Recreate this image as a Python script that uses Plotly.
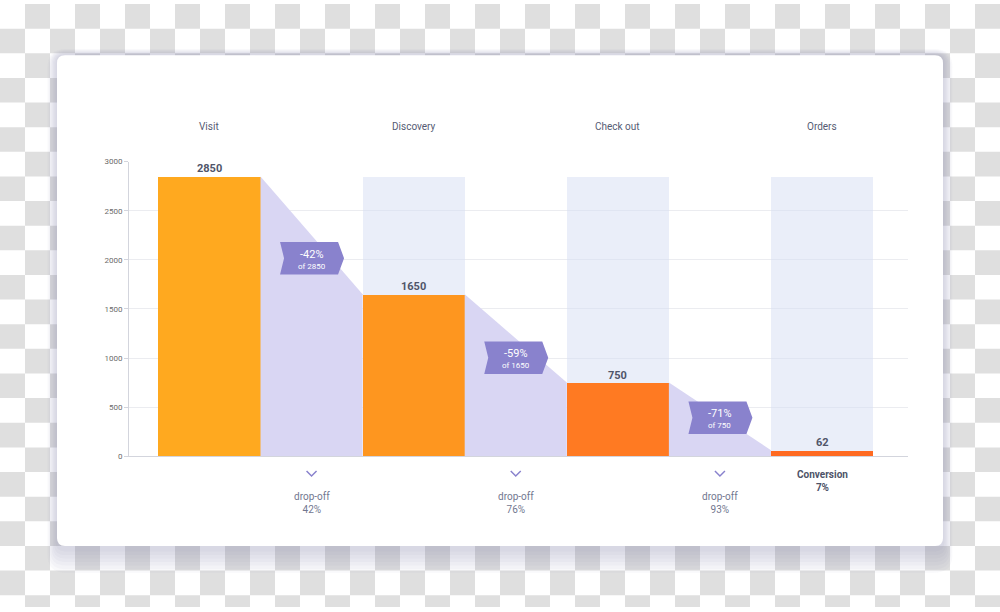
import plotly.graph_objects as go

W, H = 1000, 612

# ---- data ----
stages = ["Visit", "Discovery", "Check out", "Orders"]
values = [2850, 1650, 750, 62]
bar_colors = ["#FFA91F", "#FE961F", "#FF7A22", "#FF6A21"]
drop_pct = ["-42%", "-59%", "-71%"]
drop_base = ["of 2850", "of 1650", "of 750"]
dropoff_total = ["42%", "76%", "93%"]
conversion = "7%"
y_ticks = [0, 500, 1000, 1500, 2000, 2500, 3000]

# ---- layout geometry (pixels) ----
X_RANGE = [-0.394, 3.421]
PL, PR, PT, PB = 129, 908, 160, 459
BADGE_CY = [258, 359, 420]


def px_x(x):
    return PL + (x - X_RANGE[0]) / (X_RANGE[1] - X_RANGE[0]) * (PR - PL)


def fx(px):
    return px / W


def fy(py):
    return 1 - py / H


def rr_path(x0, y0, x1, y1, r):
    return (f"M{fx(x0 + r)},{fy(y0)} L{fx(x1 - r)},{fy(y0)} Q{fx(x1)},{fy(y0)} {fx(x1)},{fy(y0 + r)} "
            f"L{fx(x1)},{fy(y1 - r)} Q{fx(x1)},{fy(y1)} {fx(x1 - r)},{fy(y1)} "
            f"L{fx(x0 + r)},{fy(y1)} Q{fx(x0)},{fy(y1)} {fx(x0)},{fy(y1 - r)} "
            f"L{fx(x0)},{fy(y0 + r)} Q{fx(x0)},{fy(y0)} {fx(x0 + r)},{fy(y0)} Z")


shapes = []
# checkerboard background
parts = []
for r in range(0, H // 25 + 1):
    for c in range(0, W // 25):
        if (r + c) % 2 == 1:
            x0, y0 = c * 25, r * 25
            x1, y1 = x0 + 25, min(y0 + 25, H)
            parts.append(f"M{fx(x0):.5f},{fy(y0):.5f}H{fx(x1):.5f}V{fy(y1):.5f}H{fx(x0):.5f}Z")
shapes.append(dict(type="path", xref="paper", yref="paper", path="".join(parts),
                   fillcolor="#dfdfdf", line=dict(width=0), layer="below"))

# card shadow
CX0, CY0, CX1, CY1 = 57, 52, 943, 550
for k in range(7, 0, -1):
    e = k * 3.0
    shapes.append(dict(type="path", xref="paper", yref="paper",
                       path=rr_path(CX0 - e * 0.45, CY0 - e * 0.3, CX1 + e * 0.45, CY1 + e * 1.2 + 2, 8 + e * 0.5),
                       fillcolor="rgba(115,122,165,0.045)", line=dict(width=0), layer="below"))
# card
shapes.append(dict(type="path", xref="paper", yref="paper", path=rr_path(CX0, CY0, CX1, CY1, 8),
                   fillcolor="#ffffff", line=dict(width=0), layer="below"))

# badges and chevrons
BADGE_COLOR = "#8982CD"
for i in range(3):
    cx = px_x(i + 0.5)
    cy = BADGE_CY[i]
    pts = [(-31.5, -16.5), (26.5, -16.5), (32.5, 0), (26.5, 16.5), (-31.5, 16.5), (-27.5, 0)]
    path = "M" + " L".join(f"{fx(cx + dx)},{fy(cy + dy)}" for dx, dy in pts) + " Z"
    shapes.append(dict(type="path", xref="paper", yref="paper", path=path,
                       fillcolor=BADGE_COLOR, line=dict(width=0), layer="above"))
    chev = f"M{fx(cx - 5)},{fy(474)} L{fx(cx)},{fy(479)} L{fx(cx + 5)},{fy(474)}"
    shapes.append(dict(type="path", xref="paper", yref="paper", path=chev,
                       line=dict(color=BADGE_COLOR, width=1.5), layer="above"))

fig = go.Figure()

# background columns
fig.add_trace(go.Bar(x=list(range(1, len(stages))), y=[values[0]] * (len(stages) - 1), width=0.5,
                     marker=dict(color="rgba(214,221,243,0.5)", line=dict(width=0)),
                     hoverinfo="skip"))
# funnel bars
fig.add_trace(go.Bar(x=list(range(len(stages))), y=values, width=0.5,
                     marker=dict(color=bar_colors, line=dict(width=0)), hoverinfo="skip"))
# drop-off areas
for i in range(len(stages) - 1):
    fig.add_trace(go.Scatter(x=[i + 0.25, i + 0.75, i + 0.75, i + 0.25],
                             y=[values[i], values[i + 1], 0, 0],
                             fill="toself", fillcolor="#D9D6F3", mode="lines",
                             line=dict(width=0, color="#D9D6F3"), hoverinfo="skip"))

annotations = []
FONT = "Roboto"


def ann(**kw):
    kw.setdefault("showarrow", False)
    kw.setdefault("xanchor", "center")
    kw.setdefault("yanchor", "middle")
    annotations.append(kw)


for i, s in enumerate(stages):
    ann(x=i, y=fy(124), xref="x", yref="paper", text=s,
        font=dict(family=FONT, size=10, color="#555b73"))
    ann(x=i, y=values[i], xref="x", yref="y", text=f"<b>{values[i]}</b>",
        yanchor="bottom", yshift=-1, font=dict(family=FONT, size=11, color="#505569"))
for i in range(3):
    cy = BADGE_CY[i]
    ann(x=i + 0.5, y=fy(cy - 4), xref="x", yref="paper", text=drop_pct[i],
        font=dict(family=FONT, size=11, color="#ffffff"))
    ann(x=i + 0.5, y=fy(cy + 8), xref="x", yref="paper", text=drop_base[i],
        font=dict(family=FONT, size=8, color="#ffffff"))
    ann(x=i + 0.5, y=fy(506.5), xref="x", yref="paper",
        text=f"drop-off<br>{dropoff_total[i]}",
        font=dict(family=FONT, size=10, color="#72778f"))
ann(x=3, y=fy(484.5), xref="x", yref="paper",
    text=f"<b>Conversion</b><br><b>{conversion}</b>",
    font=dict(family=FONT, size=10, color="#4e5368"))

fig.update_layout(
    width=W, height=H,
    margin=dict(l=0, r=0, t=0, b=0, pad=0),
    paper_bgcolor="#ffffff",
    plot_bgcolor="rgba(0,0,0,0)",
    showlegend=False,
    barmode="overlay",
    bargap=0,
    hovermode=False,
    shapes=shapes,
    annotations=annotations,
    xaxis=dict(domain=[PL / W, PR / W], range=X_RANGE, showgrid=False, zeroline=False,
               showticklabels=False, showline=True, linecolor="#d3d5dd", linewidth=1,
               fixedrange=True),
    yaxis=dict(domain=[fy(PB), fy(PT)], range=[0, 3000], tickvals=y_ticks,
               tickfont=dict(family=FONT, size=8, color="#6b6b6b"),
               gridcolor="#ebecf0", zeroline=False, showline=True, linecolor="#d3d5dd",
               ticks="outside", ticklen=4, tickcolor="#d3d5dd", fixedrange=True),
)

fig.write_html("out.html", config={"displayModeBar": False},
               post_script="document.body.style.margin='0';document.body.style.overflow='hidden';")
